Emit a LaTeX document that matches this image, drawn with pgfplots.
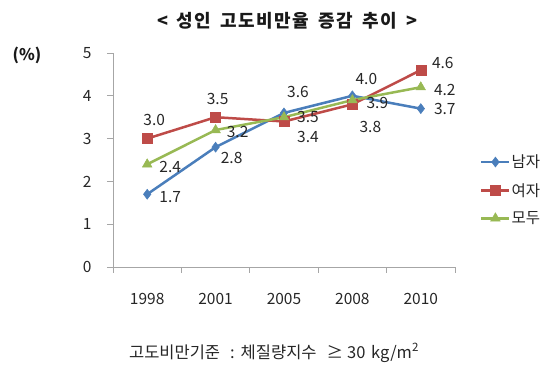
\documentclass[border=0pt]{standalone}
\usepackage{fontspec}
\setmainfont{Noto Sans CJK KR}
\usepackage{pgfplots}
\pgfplotsset{compat=1.18}
\usepackage{pgfplotstable}
\definecolor{cblue}{HTML}{4A7EBB}
\definecolor{cred}{HTML}{BE4B48}
\definecolor{cgreen}{HTML}{98B954}
\definecolor{axgray}{HTML}{A6A6A6}

\pgfplotstableread{
x y dx dy
0 1.7 23 -3
1 2.8 16 -11
2 3.6 14 21
3 4.0 14 17
4 3.7 24 0
}\male
\pgfplotstableread{
x y dx dy
0 3.0 7 19
1 3.5 2 18
2 3.4 24 -15
3 3.8 18 -23
4 4.6 22 7
}\female
\pgfplotstableread{
x y dx dy
0 2.4 23 -3
1 3.2 22 -2
2 3.5 24 0
3 3.9 25 -3
4 4.2 24 -3
}\both

\begin{document}
\begin{tikzpicture}
\useasboundingbox (0,0) rectangle (550pt,374pt);
\begin{axis}[
  at={(113pt,107pt)}, anchor=south west,
  scale only axis, width=342pt, height=214pt,
  xmin=-0.5, xmax=4.5, ymin=0, ymax=5,
  axis x line*=bottom, axis y line*=left,
  axis line style={draw=axgray, line width=0.8pt, -},
  ytick={0,1,2,3,4,5},
  xtick={0,1,2,3,4},
  xticklabels={1998,2001,2005,2008,2010},
  tick align=outside,
  major tick length=6pt,
  xtick style={draw=none},
  ytick style={draw=axgray, line width=0.8pt},
  extra x ticks={-0.5,0.5,1.5,2.5,3.5,4.5},
  extra x tick labels={},
  extra x tick style={xtick style={draw=axgray, line width=0.8pt}},
  /pgf/number format/assume math mode=true,
  ticklabel style={font=\fontsize{15.5}{17}\selectfont, text=black!85},
  yticklabel style={xshift=-12pt},
  xticklabel style={yshift=-17pt},
  point meta=y,
  nodes near coords={\pgfmathprintnumber[fixed,fixed zerofill,precision=1,assume math mode=true]{\pgfplotspointmeta}},
  visualization depends on={\thisrow{dx}\as\dx},
  visualization depends on={\thisrow{dy}\as\dy},
  nodes near coords style={anchor=center, xshift=\dx pt, yshift=\dy pt, font=\fontsize{15.5}{17}\selectfont, text=black!85},
  legend image code/.code={\draw[mark repeat=2,mark phase=2] plot coordinates {(0pt,0pt) (14pt,0pt) (28pt,0pt)};},
  legend style={at={(axis description cs:1.073,0.36)}, anchor=west, draw=none, fill=none,
    inner sep=0pt, row sep=12pt, font=\fontsize{15.5}{17}\selectfont,
    nodes={inner sep=1pt, text=black!85}},
  legend cell align=left,
]
\addplot[cblue, line width=2.5pt, mark=diamond*, mark size=5pt, mark options={solid, line width=0.5pt}] table[x=x,y=y] {\male};
\addplot[cred, line width=2.5pt, mark=square*, mark size=5pt, mark options={solid, line width=0.5pt}] table[x=x,y=y] {\female};
\addplot[cgreen, line width=2.5pt, mark=triangle*, mark size=5.5pt, mark options={solid, line width=0.5pt}] table[x=x,y=y] {\both};
\legend{남자,여자,모두}
\end{axis}
\node[font=\fontsize{18}{20}\selectfont\bfseries\addfontfeature{LetterSpace=8}, text=black!90] at (287pt,353pt) {<\hspace{3pt} 성인\hspace{4pt} 고도비만율\hspace{4pt} 증감\hspace{4pt} 추이\hspace{3pt} >};
\node[font=\fontsize{16}{18}\selectfont\bfseries, text=black!90] at (27pt,319pt) {(\%)};
\node[font=\fontsize{16.5}{18}\selectfont, text=black!85] at (274pt,21pt) {고도비만기준\hspace{10pt}:\hspace{6pt}체질량지수\hspace{10pt}≥\hspace{4pt}30\hspace{2pt} kg/m\textsuperscript{2}};
\end{tikzpicture}
\end{document}
